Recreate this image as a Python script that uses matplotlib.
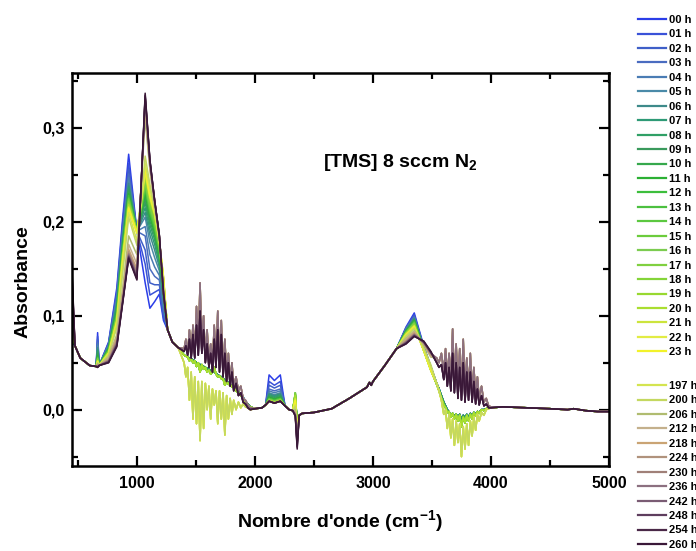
import matplotlib
matplotlib.use("Agg")
import matplotlib.pyplot as plt
from matplotlib.lines import Line2D
from matplotlib.ticker import MultipleLocator, FuncFormatter

plt.rcParams["font.family"] = ["Liberation Sans", "DejaVu Sans"]
plt.rcParams["font.weight"] = "bold"
plt.rcParams["mathtext.fontset"] = "custom"
plt.rcParams["mathtext.rm"] = "Liberation Sans:bold"
plt.rcParams["mathtext.bf"] = "Liberation Sans:bold"

# ---- series (hours) ----
HOURS = list(range(24)) + [197, 200, 206, 212, 218, 224, 230, 236, 242, 248, 254, 260]
LABELS = [f"{h:02d} h" for h in HOURS]
# spectral family of each series (drives the water-vapour region shape)
GROUP = (["early"] * 10 + ["green"] * 11 + ["yellow"] * 5 + ["tan"] * 6 + ["dark"] * 4)

# ---- features read per series (absorbance) ----
Y450 = [0.075, 0.075, 0.078, 0.078, 0.08, 0.08, 0.082, 0.082, 0.085, 0.085,
        0.088, 0.088, 0.09, 0.09, 0.09, 0.092, 0.092, 0.094, 0.094, 0.095, 0.095,
        0.098, 0.1, 0.1, 0.105, 0.108,
        0.115, 0.12, 0.125, 0.13, 0.135, 0.138,
        0.14, 0.143, 0.146, 0.15]
Y667 = [0.082, 0.078, 0.075, 0.072, 0.07, 0.068, 0.066, 0.064, 0.062, 0.06,
        0.058, 0.057, 0.056, 0.055, 0.055, 0.054, 0.054, 0.053, 0.053, 0.052, 0.052,
        0.052, 0.051, 0.051, 0.05, 0.05,
        0.049, 0.048, 0.048, 0.047, 0.047, 0.046,
        0.046, 0.045, 0.045, 0.045]
Y760 = [0.072, 0.071, 0.07, 0.069, 0.068, 0.068, 0.067, 0.066, 0.066, 0.065,
        0.065, 0.064, 0.064, 0.063, 0.063, 0.062, 0.062, 0.062, 0.061, 0.061, 0.061,
        0.06, 0.06, 0.06, 0.059, 0.058,
        0.056, 0.055, 0.054, 0.053, 0.052, 0.052,
        0.051, 0.051, 0.05, 0.05]
Y830 = [0.13, 0.126, 0.123, 0.12, 0.118, 0.116, 0.114, 0.112, 0.11, 0.108,
        0.106, 0.104, 0.103, 0.102, 0.101, 0.1, 0.099, 0.098, 0.097, 0.096, 0.095,
        0.095, 0.094, 0.093, 0.09, 0.088,
        0.08, 0.078, 0.076, 0.074, 0.072, 0.071,
        0.07, 0.069, 0.068, 0.067]
Y880 = [0.205, 0.2, 0.196, 0.192, 0.189, 0.186, 0.183, 0.18, 0.178, 0.176,
        0.174, 0.172, 0.17, 0.169, 0.168, 0.167, 0.166, 0.165, 0.164, 0.163, 0.162,
        0.161, 0.16, 0.159, 0.152, 0.146,
        0.13, 0.126, 0.123, 0.12, 0.118, 0.117,
        0.116, 0.115, 0.115, 0.114]
P930 = [0.272, 0.262, 0.256, 0.251, 0.247, 0.244, 0.241, 0.238, 0.236, 0.234,
        0.232, 0.23, 0.228, 0.226, 0.225, 0.224, 0.222, 0.221, 0.22, 0.219, 0.218,
        0.216, 0.215, 0.214, 0.21, 0.205,
        0.185, 0.176, 0.171, 0.168, 0.166, 0.165,
        0.164, 0.163, 0.162, 0.161]
V1000 = [0.19, 0.19, 0.19, 0.19, 0.19, 0.19, 0.19, 0.19, 0.19, 0.19,
         0.19, 0.19, 0.19, 0.19, 0.19, 0.19, 0.19, 0.19, 0.19, 0.19, 0.19,
         0.188, 0.188, 0.188, 0.18, 0.175,
         0.165, 0.155, 0.15, 0.147, 0.145, 0.143,
         0.142, 0.14, 0.139, 0.138]
P1070 = [0.135, 0.155, 0.17, 0.185, 0.195, 0.205, 0.21, 0.215, 0.22, 0.224,
         0.228, 0.231, 0.234, 0.236, 0.238, 0.24, 0.242, 0.244, 0.246, 0.248, 0.25,
         0.252, 0.254, 0.256, 0.262, 0.27,
         0.31, 0.318, 0.323, 0.327, 0.33, 0.332,
         0.333, 0.334, 0.335, 0.337]
Y1110 = [0.108, 0.122, 0.135, 0.15, 0.165, 0.178, 0.186, 0.192, 0.197, 0.201,
         0.205, 0.207, 0.209, 0.211, 0.213, 0.215, 0.217, 0.219, 0.221, 0.223, 0.224,
         0.226, 0.227, 0.228, 0.235, 0.24,
         0.255, 0.258, 0.26, 0.262, 0.263, 0.264,
         0.265, 0.265, 0.266, 0.266]
Y1150 = [0.115, 0.125, 0.133, 0.142, 0.152, 0.162, 0.17, 0.176, 0.181, 0.185,
         0.188, 0.19, 0.192, 0.194, 0.196, 0.198, 0.2, 0.202, 0.204, 0.206, 0.207,
         0.208, 0.209, 0.21, 0.212, 0.214,
         0.218, 0.219, 0.22, 0.221, 0.222, 0.222,
         0.223, 0.223, 0.223, 0.223]
Y1190 = [0.123, 0.128, 0.133, 0.138, 0.143, 0.148, 0.152, 0.156, 0.159, 0.162,
         0.164, 0.166, 0.168, 0.17, 0.171, 0.172, 0.174, 0.175, 0.176, 0.177, 0.178,
         0.179, 0.18, 0.18, 0.181, 0.182,
         0.183, 0.183, 0.184, 0.184, 0.185, 0.185,
         0.185, 0.185, 0.186, 0.186]
Y1225 = [0.095, 0.098, 0.102, 0.106, 0.11, 0.114, 0.117, 0.12, 0.123, 0.126,
         0.128, 0.13, 0.132, 0.133, 0.134, 0.135, 0.136, 0.137, 0.138, 0.139, 0.14,
         0.141, 0.141, 0.142, 0.135, 0.13,
         0.128, 0.127, 0.127, 0.126, 0.126, 0.125,
         0.125, 0.124, 0.124, 0.124]
BAND_A = [0.037, 0.03, 0.026, 0.022, 0.02, 0.018, 0.017, 0.016, 0.015, 0.014,
          0.013, 0.013, 0.012, 0.012, 0.011, 0.011, 0.011, 0.01, 0.01, 0.01, 0.01,
          0.009, 0.009, 0.009, 0.009, 0.009,
          0.009, 0.009, 0.009, 0.009, 0.009, 0.009,
          0.009, 0.009, 0.009, 0.009]
BAND_DIP = [0.031, 0.026, 0.023, 0.02, 0.018, 0.016, 0.015, 0.014, 0.013, 0.012,
            0.011, 0.011, 0.01, 0.01, 0.009, 0.009, 0.009, 0.008, 0.008, 0.008, 0.008,
            0.007, 0.007, 0.007, 0.007, 0.007,
            0.007, 0.007, 0.007, 0.007, 0.007, 0.007,
            0.007, 0.007, 0.007, 0.007]
CO2_UP = [0.008, 0.008, 0.008, 0.008, 0.008, 0.008, 0.008, 0.008, 0.008, 0.008,
          0.015, 0.016, 0.017, 0.018, 0.018, 0.018, 0.018, 0.017, 0.016, 0.015, 0.015,
          0.012, 0.01, 0.01, 0.005, 0.003,
          0.0, -0.002, -0.003, -0.004, -0.005, -0.005,
          -0.006, -0.006, -0.007, -0.007]
CO2_DN = [-0.008, -0.009, -0.01, -0.01, -0.011, -0.011, -0.012, -0.012, -0.013, -0.013,
          -0.014, -0.014, -0.015, -0.015, -0.016, -0.016, -0.017, -0.017, -0.018, -0.018, -0.019,
          -0.02, -0.02, -0.021, -0.024, -0.026,
          -0.028, -0.03, -0.032, -0.034, -0.035, -0.036,
          -0.037, -0.039, -0.04, -0.042]
Y3280 = [0.088, 0.087, 0.087, 0.086, 0.086, 0.085, 0.085, 0.084, 0.084, 0.084,
         0.083, 0.083, 0.083, 0.082, 0.082, 0.082, 0.082, 0.081, 0.081, 0.081, 0.081,
         0.08, 0.08, 0.08, 0.079, 0.078,
         0.076, 0.075, 0.074, 0.073, 0.072, 0.072,
         0.071, 0.071, 0.07, 0.07]
P3350 = [0.103, 0.101, 0.1, 0.099, 0.098, 0.097, 0.097, 0.096, 0.096, 0.095,
         0.095, 0.094, 0.094, 0.093, 0.093, 0.092, 0.092, 0.091, 0.091, 0.09, 0.09,
         0.089, 0.089, 0.088, 0.087, 0.086,
         0.084, 0.083, 0.082, 0.081, 0.08, 0.08,
         0.079, 0.079, 0.078, 0.078]
Y3430 = [0.068, 0.067, 0.067, 0.066, 0.066, 0.066, 0.065, 0.065, 0.065, 0.065,
         0.064, 0.064, 0.064, 0.064, 0.064, 0.063, 0.063, 0.063, 0.063, 0.063, 0.063,
         0.063, 0.063, 0.063, 0.065, 0.066,
         0.069, 0.07, 0.07, 0.071, 0.071, 0.072,
         0.072, 0.072, 0.073, 0.073]
Y3490 = [0.046, 0.046, 0.046, 0.045, 0.045, 0.045, 0.045, 0.045, 0.044, 0.044,
         0.044, 0.044, 0.043, 0.043, 0.043, 0.043, 0.043, 0.042, 0.042, 0.042, 0.042,
         0.042, 0.042, 0.042, 0.045, 0.048,
         0.056, 0.057, 0.058, 0.059, 0.06, 0.06,
         0.061, 0.061, 0.062, 0.062]

# ---- shared parts of the spectra ----
WN_LOW = [450, 475, 520, 600, 655, 667, 680, 760, 830, 880, 930, 1000, 1070,
          1110, 1150, 1190, 1225, 1260, 1300, 1350]
LOW_SHARED = {475: 0.068, 520: 0.055, 600: 0.047, 655: 0.046, 680: 0.047,
              1260: 0.085, 1300: 0.072, 1350: 0.066}

# water vapour region 1 (bending)
WATER1_WN = [1400, 1415, 1430, 1445, 1460, 1475, 1490, 1505, 1520, 1535, 1550, 1565,
             1580, 1595, 1610, 1625, 1640, 1655, 1670, 1685, 1700, 1715, 1730, 1745,
             1760, 1775, 1790, 1805, 1820, 1840, 1860, 1880, 1900, 1920, 1940, 1960]
WATER1 = {
    "early": [0.058, 0.057, 0.056, 0.055, 0.054, 0.053, 0.052, 0.05, 0.049, 0.048, 0.047, 0.046,
              0.045, 0.044, 0.043, 0.042, 0.041, 0.04, 0.039, 0.037, 0.036, 0.035, 0.033, 0.032,
              0.03, 0.029, 0.027, 0.026, 0.024, 0.022, 0.019, 0.016, 0.013, 0.009, 0.006, 0.003],
    "green": [0.058, 0.057, 0.056, 0.052, 0.054, 0.05, 0.052, 0.046, 0.05, 0.04, 0.048, 0.043,
              0.045, 0.04, 0.042, 0.038, 0.04, 0.045, 0.038, 0.035, 0.036, 0.033, 0.033, 0.026,
              0.03, 0.027, 0.027, 0.024, 0.024, 0.02, 0.018, 0.015, 0.012, 0.008, 0.005, 0.003],
    "yellow": [0.05, 0.035, 0.045, 0.01, 0.04, -0.01, 0.035, -0.015, 0.03, -0.033, 0.03, -0.02,
               0.028, 0.0, 0.025, -0.01, 0.022, 0.005, 0.02, -0.015, 0.02, -0.01, 0.018, -0.027,
               0.015, -0.01, 0.012, -0.005, 0.01, 0.0, 0.008, 0.002, 0.006, 0.003, 0.002, 0.0],
    "tan": [0.065, 0.075, 0.06, 0.085, 0.058, 0.09, 0.06, 0.11, 0.065, 0.135, 0.07, 0.1,
            0.055, 0.085, 0.05, 0.07, 0.045, 0.09, 0.05, 0.105, 0.045, 0.095, 0.04, 0.075,
            0.035, 0.06, 0.03, 0.05, 0.025, 0.035, 0.02, 0.025, 0.012, 0.01, 0.005, 0.002],
    "dark": [0.062, 0.068, 0.058, 0.075, 0.055, 0.08, 0.055, 0.09, 0.058, 0.105, 0.06, 0.085,
             0.05, 0.07, 0.045, 0.06, 0.04, 0.075, 0.045, 0.085, 0.04, 0.08, 0.035, 0.06,
             0.03, 0.05, 0.025, 0.04, 0.02, 0.028, 0.015, 0.018, 0.008, 0.006, 0.002, 0.0],
}

WN_MID = [2000, 2060, 2090, 2120, 2165, 2215, 2255, 2290, 2320, 2342, 2358, 2375, 2400,
          2500, 2650, 2800, 2950, 2970, 2985, 3000, 3100, 3200, 3280, 3350, 3430, 3490]
MID_SHARED = {2000: 0.001, 2060: 0.002, 2090: 0.005, 2255: 0.004, 2290: 0.0, 2320: -0.001,
              2375: -0.006, 2400: -0.004, 2500: -0.003, 2650: 0.001, 2800: 0.012,
              2950: 0.024, 2970: 0.029, 2985: 0.026, 3000: 0.03, 3100: 0.047, 3200: 0.065}

# water vapour region 2 (stretching)
WATER2_WN = [3540, 3560, 3580, 3600, 3615, 3630, 3645, 3660, 3675, 3690, 3705, 3720, 3735,
             3750, 3765, 3780, 3795, 3810, 3825, 3840, 3855, 3870, 3885, 3900, 3920, 3940,
             3960, 3980, 4000]
WATER2 = {
    "early": [0.028, 0.022, 0.015, 0.008, 0.004, 0.0, -0.003, -0.005, -0.004, -0.007, -0.005,
              -0.008, -0.005, -0.01, -0.006, -0.009, -0.005, -0.008, -0.004, -0.007, -0.003,
              -0.005, -0.002, -0.003, 0.0, 0.0, 0.001, 0.002, 0.002],
    "green": [0.027, 0.02, 0.012, 0.005, 0.002, -0.003, -0.002, -0.008, -0.004, -0.01, -0.005,
              -0.012, -0.006, -0.018, -0.008, -0.014, -0.006, -0.012, -0.005, -0.01, -0.003,
              -0.007, -0.002, -0.004, 0.0, -0.001, 0.001, 0.002, 0.002],
    "yellow": [0.028, 0.02, 0.01, -0.005, 0.0, -0.02, -0.005, -0.03, -0.01, -0.038, -0.012,
               -0.035, -0.015, -0.05, -0.018, -0.042, -0.015, -0.038, -0.012, -0.028, -0.008,
               -0.022, -0.005, -0.012, -0.003, -0.006, 0.0, 0.001, 0.002],
    "tan": [0.055, 0.05, 0.06, 0.04, 0.065, 0.035, 0.06, 0.03, 0.086, 0.03, 0.07, 0.025, 0.065,
            0.02, 0.075, 0.02, 0.055, 0.02, 0.06, 0.018, 0.045, 0.015, 0.035, 0.012, 0.025,
            0.008, 0.012, 0.004, 0.003],
    "dark": [0.05, 0.045, 0.048, 0.032, 0.05, 0.025, 0.045, 0.02, 0.06, 0.018, 0.05, 0.012,
             0.045, 0.01, 0.05, 0.008, 0.04, 0.01, 0.04, 0.008, 0.03, 0.006, 0.022, 0.005,
             0.015, 0.004, 0.006, 0.002, 0.002],
}

WN_HI = [4100, 4300, 4500, 4650, 4700, 4800, 4900, 5000]
HI_VAL = [0.003, 0.002, 0.001, 0.0, 0.001, -0.001, -0.002, -0.002]

COLORS = ["#2b3de8", "#3a52d8", "#3f5fc8", "#4a6cc0", "#4a7cb4", "#4a8aa8", "#3e8a8a",
          "#2e9a76", "#30a066", "#3a9a5c", "#36a84c", "#2cb034", "#3cbe3c", "#4cc040",
          "#5cc840", "#6ccc3c", "#7ccc50", "#80d040", "#84d438", "#98d830", "#aade30",
          "#cce43c", "#e2ec44", "#f2f22a",
          "#d4e450", "#c4d860", "#b0bc70", "#c4b08c", "#caa474", "#b0927c", "#a08078",
          "#8c7080", "#7a5c74", "#5e3e5e", "#4a2848", "#3a1838"]


def spectrum(i):
    low = {450: Y450[i], 667: Y667[i], 760: Y760[i], 830: Y830[i], 880: Y880[i],
           930: P930[i], 1000: V1000[i], 1070: P1070[i], 1110: Y1110[i],
           1150: Y1150[i], 1190: Y1190[i], 1225: Y1225[i]}
    low.update(LOW_SHARED)
    mid = {2120: BAND_A[i], 2165: BAND_DIP[i], 2215: BAND_A[i], 2342: CO2_UP[i],
           2358: CO2_DN[i], 3280: Y3280[i], 3350: P3350[i], 3430: Y3430[i], 3490: Y3490[i]}
    mid.update(MID_SHARED)
    g = GROUP[i]
    x = WN_LOW + WATER1_WN + WN_MID + WATER2_WN + WN_HI
    y = ([low[w] for w in WN_LOW] + WATER1[g] + [mid[w] for w in WN_MID]
         + WATER2[g] + HI_VAL)
    return x, y


fig = plt.figure(figsize=(6.96, 5.51), dpi=100)
ax = fig.add_axes([72 / 696, 85 / 551, 537 / 696, 393 / 551])

for i, h in enumerate(HOURS):
    x, y = spectrum(i)
    ax.plot(x, y, color=COLORS[i], lw=1.1, zorder=2 + i * 0.01)

ax.set_xlim(450, 5000)
ax.set_ylim(-0.06, 0.3585)
ax.xaxis.set_major_locator(MultipleLocator(1000))
ax.xaxis.set_minor_locator(MultipleLocator(500))
ax.yaxis.set_major_locator(MultipleLocator(0.1))
ax.yaxis.set_minor_locator(MultipleLocator(0.05))
ax.yaxis.set_major_formatter(FuncFormatter(lambda v, p: f"{v:.1f}".replace(".", ",")))
ax.tick_params(which="both", direction="in", top=True, right=True, width=1.6,
               labelsize=11.5, pad=5)
ax.tick_params(axis="x", which="major", pad=7)
ax.tick_params(which="major", length=7)
ax.tick_params(which="minor", length=4)
for s in ax.spines.values():
    s.set_linewidth(1.8)
for lab in ax.get_xticklabels() + ax.get_yticklabels():
    lab.set_fontweight("bold")

ax.set_xlabel(r"Nombre d'onde (cm$^{\mathbf{-1}}$)", fontsize=14, fontweight="bold", labelpad=13)
ax.set_ylabel("Absorbance", fontsize=14, fontweight="bold")
ax.yaxis.set_label_coords(-0.076, 0.47)
ax.text(0.611, 0.773, r"[TMS] 8 sccm N$_{\mathbf{2}}$", transform=ax.transAxes,
        ha="center", va="center", fontsize=14, fontweight="bold")

# legend in two blocks (hours 00-23, then 197-260)
handles = [Line2D([0], [0], color=COLORS[i], lw=1.6) for i in range(len(HOURS))]
kw = dict(frameon=False, handlelength=2.5, handletextpad=0.25,
          labelspacing=0.40, borderpad=0, borderaxespad=0, loc="upper left",
          bbox_transform=fig.transFigure, prop={"weight": "bold", "size": 8})
leg1 = fig.legend(handles[:24], LABELS[:24], bbox_to_anchor=(638 / 696, 1 - 15 / 551), **kw)
leg2 = fig.legend(handles[24:], LABELS[24:], bbox_to_anchor=(638 / 696, 1 - 381 / 551), **kw)

fig.savefig("out.png", dpi=100, facecolor="white")
